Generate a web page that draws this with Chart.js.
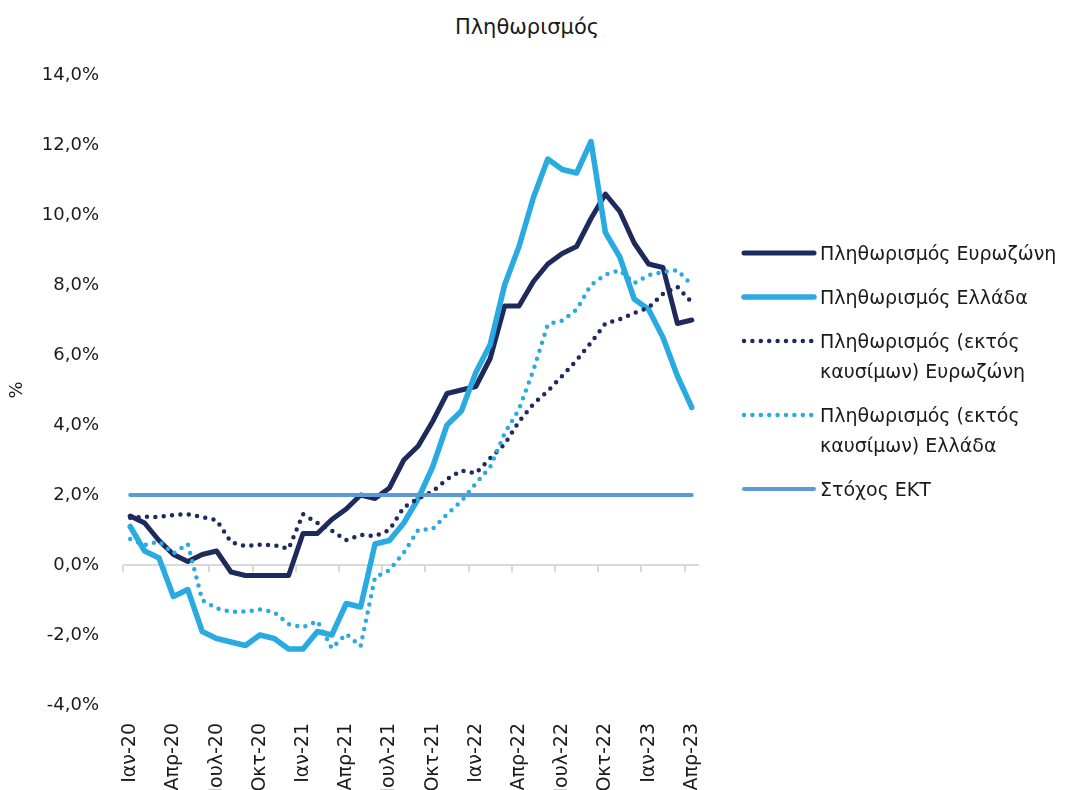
<!DOCTYPE html>
<html>
<head>
<meta charset="utf-8">
<title>Πληθωρισμός</title>
<script src="https://cdn.jsdelivr.net/npm/chart.js@4/dist/chart.umd.min.js"></script>
<style>
  html, body { margin: 0; padding: 0; background: #fff; }
  #wrap { position: relative; width: 1067px; height: 790px; overflow: hidden;
          font-family: "DejaVu Sans", sans-serif; color: #1a1a1a; }
  #title { position: absolute; left: 0; top: 15px; width: 1054px; text-align: center; font-size: 21px; }
  #chartBox { position: absolute; left: 0; top: 0; width: 1067px; height: 790px; }
  #legend { position: absolute; left: 741px; top: 238px; font-size: 19px; }
  #legend .row { display: flex; align-items: flex-start; margin-bottom: 14px; }
  #legend .row span { display: block; width: 250px; line-height: 30px; margin-left: 3px; }
</style>
</head>
<body>
<div id="wrap">
  <div id="title">Πληθωρισμός</div>
  <div id="chartBox"><canvas id="inflationChart"></canvas></div>
  <div id="legend"></div>
</div>
<script>
// -----------------------
// Δεδομένα (% ετήσια μεταβολή)
// -----------------------
const labels = [
  "Ιαν-20", "Φεβ-20", "Μαρ-20", "Απρ-20", "Μαϊ-20", "Ιουν-20", "Ιουλ-20", "Αυγ-20", "Σεπ-20", "Οκτ-20", "Νοε-20", "Δεκ-20",
  "Ιαν-21", "Φεβ-21", "Μαρ-21", "Απρ-21", "Μαϊ-21", "Ιουν-21", "Ιουλ-21", "Αυγ-21", "Σεπ-21", "Οκτ-21", "Νοε-21", "Δεκ-21",
  "Ιαν-22", "Φεβ-22", "Μαρ-22", "Απρ-22", "Μαϊ-22", "Ιουν-22", "Ιουλ-22", "Αυγ-22", "Σεπ-22", "Οκτ-22", "Νοε-22", "Δεκ-22",
  "Ιαν-23", "Φεβ-23", "Μαρ-23", "Απρ-23"
];

const euroArea = [
  1.4, 1.2, 0.7, 0.3, 0.1, 0.3, 0.4, -0.2, -0.3, -0.3, -0.3, -0.3,
  0.9, 0.9, 1.3, 1.6, 2.0, 1.9, 2.2, 3.0, 3.4, 4.1, 4.9, 5.0,
  5.1, 5.9, 7.4, 7.4, 8.1, 8.6, 8.9, 9.1, 9.9, 10.6, 10.1, 9.2,
  8.6, 8.5, 6.9, 7.0
];

const greece = [
  1.1, 0.4, 0.2, -0.9, -0.7, -1.9, -2.1, -2.2, -2.3, -2.0, -2.1, -2.4,
  -2.4, -1.9, -2.0, -1.1, -1.2, 0.6, 0.7, 1.2, 1.9, 2.8, 4.0, 4.4,
  5.5, 6.3, 8.0, 9.1, 10.5, 11.6, 11.3, 11.2, 12.1, 9.5, 8.8, 7.6,
  7.3, 6.5, 5.4, 4.5
];

const euroAreaExEnergy = [
  1.35, 1.38, 1.37, 1.43, 1.45, 1.37, 1.28, 0.65, 0.54, 0.58, 0.57, 0.46,
  1.45, 1.2, 0.98, 0.71, 0.86, 0.83, 1.0, 1.65, 1.9, 2.1, 2.45, 2.7,
  2.62, 3.05, 3.45, 4.1, 4.6, 4.97, 5.4, 5.85, 6.35, 6.9, 7.02, 7.2,
  7.35, 7.75, 7.95, 7.5
];

const greeceExEnergy = [
  0.74, 0.57, 0.67, 0.33, 0.6, -1.0, -1.24, -1.34, -1.33, -1.27, -1.35, -1.69,
  -1.78, -1.6, -2.38, -1.97, -2.32, -0.35, -0.15, 0.35, 1.0, 1.03, 1.45, 1.83,
  2.33, 2.8, 3.76, 4.45, 5.57, 6.88, 6.98, 7.3, 8.0, 8.3, 8.42, 8.05,
  8.28, 8.37, 8.42, 8.0
];

const ecbTarget = [
  2, 2, 2, 2, 2, 2, 2, 2, 2, 2, 2, 2,
  2, 2, 2, 2, 2, 2, 2, 2, 2, 2, 2, 2,
  2, 2, 2, 2, 2, 2, 2, 2, 2, 2, 2, 2,
  2, 2, 2, 2
];

const yTicks = { min: -4, max: 14, step: 2 };

// -----------------------
// Σειρές (η σειρά του υπομνήματος)
// -----------------------
const NAVY = "#1f2a5c";
const LIGHT = "#29abe2";
const TARGET = "#5b9bd5";

const series = [
  { name: "Πληθωρισμός Ευρωζώνη", data: euroArea, color: NAVY, width: 5, dash: null },
  { name: "Πληθωρισμός Ελλάδα", data: greece, color: LIGHT, width: 5.5, dash: null },
  { name: "Πληθωρισμός (εκτός καυσίμων) Ευρωζώνη", data: euroAreaExEnergy, color: NAVY, width: 4.5, dash: 8.4 },
  { name: "Πληθωρισμός (εκτός καυσίμων) Ελλάδα", data: greeceExEnergy, color: LIGHT, width: 4.5, dash: 8.4 },
  { name: "Στόχος ΕΚΤ", data: ecbTarget, color: TARGET, width: 4, dash: null }
];

// Excel: η τελευταία σειρά σχεδιάζεται από πάνω
const datasets = series.map((s, i) => ({
  label: s.name,
  data: s.data,
  borderColor: s.color,
  backgroundColor: s.color,
  borderWidth: s.width,
  borderDash: s.dash ? [0, s.dash] : [],
  borderCapStyle: "round",
  borderJoinStyle: "round",
  pointRadius: 0,
  tension: 0,
  fill: false,
  order: series.length - i
}));

// -----------------------
// Γραμμή μηδέν με υποδιαιρέσεις
// -----------------------
const zeroAxisTicks = {
  id: "zeroAxisTicks",
  beforeDatasetsDraw(chart) {
    const { ctx, scales: { x, y } } = chart;
    const y0 = y.getPixelForValue(0);
    const step = x.width / labels.length;
    ctx.save();
    ctx.strokeStyle = "#d9d9d9";
    ctx.lineWidth = 2;
    ctx.beginPath();
    for (let i = 0; i < labels.length; i += 3) {
      const px = Math.round(x.left + i * step);
      ctx.moveTo(px, y0);
      ctx.lineTo(px, y0 + 7);
    }
    ctx.stroke();
    ctx.restore();
  }
};

const FONT = "'DejaVu Sans', sans-serif";
const TEXT = "#1a1a1a";

const ctx = document.getElementById("inflationChart").getContext("2d");
const inflationChart = new Chart(ctx, {
  type: "line",
  data: { labels: labels, datasets: datasets },
  options: {
    responsive: true,
    maintainAspectRatio: false,
    animation: false,
    layout: { padding: { left: 0, right: 368, top: 75, bottom: 0 } },
    plugins: {
      legend: { display: false },
      tooltip: { enabled: false },
      title: { display: false }
    },
    scales: {
      x: {
        type: "category",
        offset: true,
        grid: { display: false, drawTicks: false },
        border: { display: false },
        ticks: {
          autoSkip: false,
          minRotation: 90,
          maxRotation: 90,
          padding: 18,
          color: TEXT,
          font: { family: FONT, size: 19 },
          callback: (v, i) => (i % 3 === 0 ? labels[i] : "")
        },
        afterFit: scale => { scale.height = 85; }
      },
      y: {
        min: yTicks.min,
        max: yTicks.max,
        border: { display: false },
        grid: {
          drawTicks: false,
          lineWidth: 2,
          color: c => (c.tick && c.tick.value === 0 ? "#d9d9d9" : "rgba(0,0,0,0)")
        },
        ticks: {
          stepSize: yTicks.step,
          padding: 24,
          color: TEXT,
          font: { family: FONT, size: 18 },
          callback: v => v.toFixed(1).replace(".", ",") + "%"
        },
        title: {
          display: true,
          text: "%",
          color: TEXT,
          font: { family: FONT, size: 18 },
          padding: { top: 7, bottom: 0 }
        },
        afterFit: scale => { scale.width = 123; }
      }
    }
  },
  plugins: [zeroAxisTicks]
});

// -----------------------
// Υπόμνημα
// -----------------------
const legendEl = document.getElementById("legend");
series.forEach(s => {
  const row = document.createElement("div");
  row.className = "row";
  const dashAttr = s.dash ? `stroke-dasharray="0 ${s.dash}"` : "";
  row.innerHTML =
    `<svg width="76" height="30"><line x1="3" y1="15" x2="73" y2="15" stroke="${s.color}" ` +
    `stroke-width="${s.width}" stroke-linecap="round" ${dashAttr}/></svg>` +
    `<span>${s.name}</span>`;
  legendEl.appendChild(row);
});
</script>
</body>
</html>
